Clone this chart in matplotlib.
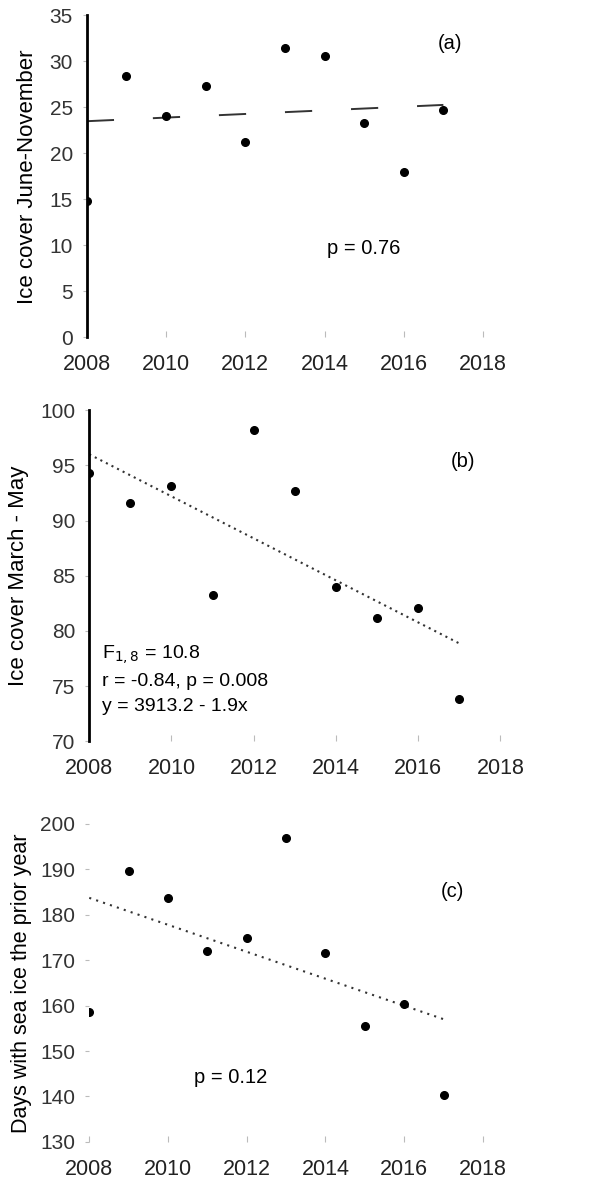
import numpy as np
import matplotlib
matplotlib.use("Agg")
import matplotlib.pyplot as plt

plt.rcParams["font.family"] = ["Liberation Sans", "DejaVu Sans"]

years = [2008, 2009, 2010, 2011, 2012, 2013, 2014, 2015, 2016, 2017]

# ice cover June-November
ice_summer = [14.8, 28.4, 24.1, 27.3, 21.2, 31.5, 30.6, 23.3, 18.0, 24.7]
# ice cover March-May
ice_spring = [94.3, 91.6, 93.1, 83.3, 98.2, 92.7, 84.0, 81.2, 82.1, 73.8]
# days with sea ice in the prior year
ice_days = [158.6, 189.6, 183.7, 172.0, 174.9, 196.8, 171.6, 155.5, 160.4, 140.3]

xticks = [2008, 2010, 2012, 2014, 2016, 2018]


def trend(ax, x, y, **kw):
    slope, icept = np.polyfit(x, y, 1)
    xs = np.array([x[0], x[-1]])
    ax.plot(xs, icept + slope * xs, color="#333333", **kw)


def style(ax, yticks, spine=True):
    for s in ("top", "right", "bottom"):
        ax.spines[s].set_visible(False)
    ax.spines["left"].set_visible(spine)
    ax.spines["left"].set_linewidth(2.0)
    ax.set_xlim(2008, 2018)
    ax.set_ylim(yticks[0], yticks[-1])
    ax.set_xticks(xticks)
    ax.set_yticks(yticks)
    ax.tick_params(axis="x", direction="in", length=4, color="#bbbbbb",
                   labelsize=15.5, labelcolor="#222222", pad=12)
    ax.tick_params(axis="y", length=3, color="#bbbbbb",
                   labelsize=15, labelcolor="#333333", pad=7)


fig = plt.figure(figsize=(6.03, 11.92), dpi=100)

# (a)
ax1 = fig.add_axes([0.144, 0.717, 0.657, 0.270])
ax1.plot(years, ice_summer, "o", color="black", ms=5.5, zorder=3)
trend(ax1, years, ice_summer, lw=1.4, dashes=(14, 20))
style(ax1, list(range(0, 36, 5)))
ax1.set_ylabel("Ice cover June-November", fontsize=16, labelpad=8)
ax1.text(2015.0, 9.7, "p = 0.76", fontsize=14.5, ha="center", va="center")
ax1.text(2017.17, 32.0, "(a)", fontsize=14.5, ha="center", va="center")

# (b)
ax2 = fig.add_axes([0.148, 0.378, 0.682, 0.278])
ax2.plot(years, ice_spring, "o", color="black", ms=5.5, zorder=3)
trend(ax2, years, ice_spring, lw=1.5, linestyle=(0, (1, 2)))
style(ax2, list(range(70, 101, 5)))
ax2.set_ylabel("Ice cover March - May", fontsize=16, labelpad=8)
ax2.text(2017.1, 95.3, "(b)", fontsize=14.5, ha="center", va="center")
ax2.text(2008.3, 77.85, "F$_{1,8}$ = 10.8", fontsize=14, ha="left", va="center")
ax2.text(2008.3, 75.4, "r = -0.84, p = 0.008", fontsize=14, ha="left", va="center")
ax2.text(2008.3, 73.2, "y = 3913.2 - 1.9x", fontsize=14, ha="left", va="center")

# (c)
ax3 = fig.add_axes([0.148, 0.042, 0.653, 0.267])
ax3.plot(years, ice_days, "o", color="black", ms=5.5, zorder=3)
trend(ax3, years, ice_days, lw=1.5, linestyle=(0, (1, 2.5)))
style(ax3, list(range(130, 201, 10)), spine=False)
ax3.set_ylabel("Days with sea ice the prior year", fontsize=15.5, labelpad=6)
ax3.text(2017.23, 185.0, "(c)", fontsize=14.5, ha="center", va="center")
ax3.text(2011.6, 144.1, "p = 0.12", fontsize=14.5, ha="center", va="center")

fig.savefig("out.png", dpi=100)
